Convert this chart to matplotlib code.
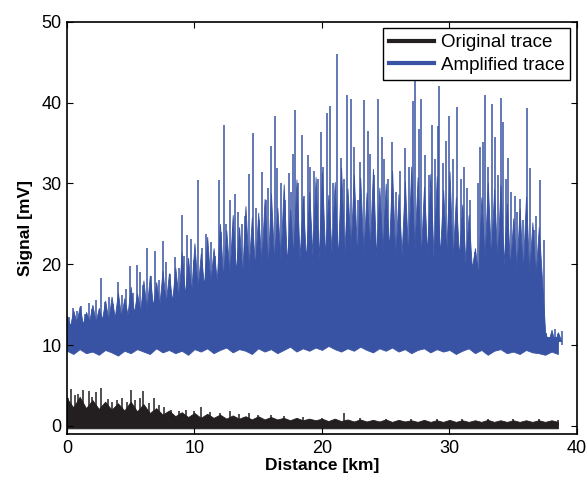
import matplotlib
matplotlib.use("Agg")
import matplotlib.pyplot as plt
import numpy as np

plt.rcParams['font.family'] = ['Liberation Sans', 'DejaVu Sans']

amp_hi = [13.6, 12.4, 14.3, 12.8, 14.8, 12.6, 14.1, 13.0, 15.0, 12.9, 14.6, 13.2, 15.5, 13.1, 16.0, 13.4,
          16.5, 13.5, 15.8, 13.8, 17.2, 14.0, 16.4, 14.2, 18.0, 14.4, 18.6, 14.8, 17.8, 15.0, 19.2, 15.2,
          18.9, 15.4, 19.6, 15.8, 21.5, 16.2, 20.8, 16.6, 22.6, 17.0, 21.4, 17.3, 23.4, 17.6, 22.0, 18.0,
          25.0, 18.2, 24.2, 18.6, 26.1, 19.0, 24.6, 18.8, 27.2, 19.4, 25.8, 19.6, 26.4, 20.0, 28.1, 19.5,
          28.8, 20.3, 27.0, 20.6, 29.9, 20.1, 26.8, 21.0, 30.5, 20.8, 28.2, 20.4, 29.0, 21.2, 30.8, 20.7,
          31.4, 21.0, 28.6, 21.5, 30.2, 20.6, 32.0, 21.3, 29.4, 21.8, 31.1, 20.9, 30.7, 21.1, 28.9, 21.6,
          31.8, 20.8, 29.5, 21.4, 30.0, 21.7, 31.6, 20.5, 28.7, 21.2, 30.3, 21.0, 32.1, 21.6, 30.8, 20.9,
          29.6, 21.3, 31.2, 20.7, 30.9, 21.0, 29.2, 21.4, 31.5, 20.6, 28.3, 20.9, 27.4, 20.2, 26.1, 19.5,
          22.0, 18.6, 28.3, 20.4, 30.1, 20.8, 29.3, 20.2, 29.8, 20.0, 27.5, 19.6, 25.7, 19.3, 26.9, 19.0,
          28.4, 18.8, 25.2, 18.5, 24.6, 18.2, 11.6, 10.4, 11.9, 10.3, 11.6, 10.6]
# Unterkante, alle 0.5 km
amp_lo = [9.3, 8.9, 9.5, 9.0, 9.2, 8.8, 9.4, 9.1, 8.7, 9.3, 9.0, 9.5, 9.2, 8.9, 9.6, 9.1, 9.4, 9.0, 9.3, 8.8,
          9.5, 9.2, 9.6, 9.0, 9.4, 9.7, 9.1, 9.5, 9.3, 8.9, 9.6, 9.2, 9.5, 9.0, 9.4, 9.8, 9.2, 9.6, 9.3, 9.7,
          9.4, 9.9, 9.5, 9.2, 9.6, 9.3, 9.8, 9.4, 9.1, 9.6, 9.3, 9.7, 9.2, 9.5, 9.0, 9.4, 9.6, 9.1, 9.5, 9.2,
          9.4, 8.9, 9.3, 9.6, 9.0, 9.4, 8.8, 9.3, 9.5, 9.0, 9.2, 8.9, 9.4, 9.1, 9.0, 8.8, 9.2, 8.9]

# einzelne hohe Spitzen
amp_spike_km = [0.2, 0.5, 0.8, 1.1, 1.4, 1.7, 2.0, 2.3, 2.7, 3.0, 3.3, 3.6, 4.0, 4.3, 4.6, 4.95, 5.2, 5.5, 5.7,
                6.0, 6.3, 6.6, 6.9, 7.2, 7.5, 7.8, 8.1, 8.5, 8.8, 9.0, 9.2, 9.4, 9.7, 10.0, 10.3, 10.6, 10.9,
                11.1, 11.3, 11.6, 11.9, 12.1, 12.3, 12.5, 12.8, 13.0, 13.2, 13.4, 13.7, 14.0, 14.3, 14.6, 14.8,
                15.1, 15.3, 15.6, 15.8, 16.0, 16.3, 16.5, 16.8, 17.1, 17.4, 17.6, 17.75, 17.9, 18.1, 18.4, 18.6,
                18.9, 19.1, 19.4, 19.7, 19.9, 20.1, 20.4, 20.6, 20.9, 21.2, 21.5, 21.7, 22.0, 22.3, 22.5, 22.8,
                23.0, 23.3, 23.6, 23.8, 24.1, 24.4, 24.7, 24.9, 25.2, 25.5, 25.8, 26.1, 26.5, 26.8, 27.1, 27.3,
                27.6, 27.8, 28.1, 28.4, 28.6, 28.9, 29.1, 29.2, 29.5, 29.7, 30.0, 30.3, 30.6, 30.9, 31.1, 31.4,
                31.6, 32.0, 32.2, 32.4, 32.6, 32.8, 33.0, 33.3, 33.6, 33.8, 34.0, 34.2, 34.4, 34.6, 34.8, 35.1,
                35.3, 35.5, 35.8, 36.1, 36.3, 36.6, 36.8, 37.1, 37.4, 37.6, 37.8, 38.0, 38.3, 38.5, 38.8]
amp_spike_top = [13.5, 14.6, 14.2, 14.9, 13.8, 15.2, 14.5, 15.6, 18.3, 15.3, 16.0, 15.1, 17.8, 16.2, 16.9, 19.8,
                 16.5, 19.9, 19.1, 17.5, 22.0, 18.5, 21.7, 18.0, 22.9, 20.3, 18.8, 20.9, 19.5, 26.1, 21.0, 23.6,
                 23.1, 20.5, 30.4, 22.0, 23.8, 21.5, 22.8, 21.0, 30.4, 24.0, 37.2, 25.0, 27.9, 24.5, 28.7, 26.5,
                 25.0, 26.0, 31.2, 36.3, 27.0, 25.5, 31.4, 28.0, 29.5, 34.6, 38.4, 31.9, 30.0, 28.0, 31.3, 29.0,
                 33.7, 39.1, 30.0, 36.0, 28.5, 33.5, 32.0, 31.5, 30.5, 36.4, 32.0, 38.7, 39.6, 30.0, 46.0, 33.1,
                 30.5, 41.0, 40.5, 34.5, 28.0, 32.6, 40.3, 36.5, 33.7, 31.0, 40.4, 35.7, 33.0, 30.5, 35.1, 29.0,
                 31.5, 34.4, 32.0, 40.2, 43.0, 36.7, 40.5, 33.5, 31.0, 37.2, 33.0, 37.1, 42.1, 32.5, 35.3, 38.4,
                 33.0, 39.5, 30.5, 32.0, 29.5, 27.9, 21.5, 30.0, 34.5, 35.1, 40.9, 32.0, 39.8, 35.8, 31.0, 40.6,
                 37.6, 30.5, 33.1, 29.0, 28.4, 26.5, 28.1, 25.5, 39.3, 31.9, 24.2, 26.0, 30.4, 23.0, 11.5, 11.0,
                 11.3, 12.0, 11.4, 11.7]

# Originalspur: Oberkante alle 0.5 km
orig_hi = [3.4, 2.3, 3.6, 2.2, 3.2, 2.1, 3.0, 2.0, 2.8, 1.9, 3.0, 1.8, 2.7, 1.6, 2.2, 1.4, 1.9, 1.2, 1.7, 1.1,
           1.6, 1.0, 1.5, 1.0, 1.4, 0.9, 1.3, 0.9, 1.2, 0.8, 1.2, 0.8, 1.1, 0.8, 1.0, 0.7, 1.0, 0.7, 0.9, 0.7,
           0.9, 0.6, 0.9, 0.6, 0.8, 0.55, 0.8, 0.55, 0.75, 0.55, 0.8, 0.5, 0.75, 0.55, 0.7, 0.5, 0.75, 0.5,
           0.7, 0.5, 0.75, 0.5, 0.7, 0.5, 0.7, 0.5, 0.75, 0.5, 0.7, 0.5, 0.7, 0.5, 0.7, 0.5, 0.7, 0.5, 0.7, 0.5]
orig_lo = -0.3

orig_spike_km = [0.1, 0.34, 0.6, 0.9, 1.3, 1.7, 2.0, 2.3, 2.7, 3.2, 3.5, 3.9, 4.3, 4.7, 5.0, 5.3, 5.7, 6.0, 6.4,
                 6.8, 7.2, 7.6, 8.2, 8.8, 9.3, 10.0, 10.5, 11.2, 12.0, 12.8, 13.5, 14.3, 15.0, 16.0, 17.0, 18.5,
                 20.0, 21.7, 23.0, 25.0, 27.0, 29.0, 31.0, 33.0, 35.0, 37.0, 38.5]
orig_spike_top = [3.5, 4.6, 3.8, 4.0, 4.4, 4.3, 3.6, 4.2, 4.7, 3.3, 3.0, 3.2, 3.4, 3.0, 4.4, 3.2, 3.5, 4.3, 2.8,
                  3.5, 2.6, 2.3, 2.0, 1.9, 2.0, 1.8, 2.3, 1.7, 1.6, 1.8, 1.5, 1.6, 1.4, 1.3, 1.2, 1.1, 1.0, 1.6,
                  1.0, 0.9, 0.8, 0.8, 0.8, 0.8, 0.8, 0.8, 0.7]

blau = "#3953a4"
schwarz = "#231f20"

amp_hi_km = np.arange(len(amp_hi)) * 0.25
amp_lo_km = np.arange(len(amp_lo)) * 0.5
orig_km = np.arange(len(orig_hi)) * 0.5

fig = plt.figure(figsize=(5.87, 4.82), dpi=100)
ax = fig.add_axes([0.114, 0.0996, 0.869, 0.855])

ax.fill_between(amp_hi_km, 10.5, amp_hi, color=blau, lw=0.6, edgecolor=blau)
ax.fill_between(amp_lo_km, amp_lo, 11, color=blau, lw=0.6, edgecolor=blau)
ax.vlines(amp_spike_km, 10, amp_spike_top, color=blau, lw=1.1)
ax.fill_between(orig_km, orig_lo, orig_hi, color=schwarz, lw=0.6, edgecolor=schwarz)
ax.vlines(orig_spike_km, 0, orig_spike_top, color=schwarz, lw=1.1)

ax.plot([], [], color=schwarz, lw=3, label="Original trace")
ax.plot([], [], color=blau, lw=3, label="Amplified trace")
leg = ax.legend(loc="upper right", fontsize=13.5, frameon=True, fancybox=False, edgecolor="black",
                framealpha=1, borderaxespad=0.35, handlelength=2.4, handletextpad=0.4, borderpad=0.3,
                labelspacing=0.3)
leg.get_frame().set_linewidth(1.0)

ax.set_xlim(0, 40)
ax.set_ylim(-1, 50)
ax.set_xticks([0, 10, 20, 30, 40])
ax.set_yticks([0, 10, 20, 30, 40, 50])
ax.tick_params(direction="in", top=True, right=True, labelsize=13, length=4, width=0.8, pad=4)
for s in ax.spines.values():
    s.set_linewidth(1.2)
ax.set_xlabel("Distance [km]", fontsize=12.5, fontweight="bold", labelpad=1)
ax.set_ylabel("Signal [mV]", fontsize=12.5, fontweight="bold", labelpad=6)

fig.savefig("out.png", dpi=100)
